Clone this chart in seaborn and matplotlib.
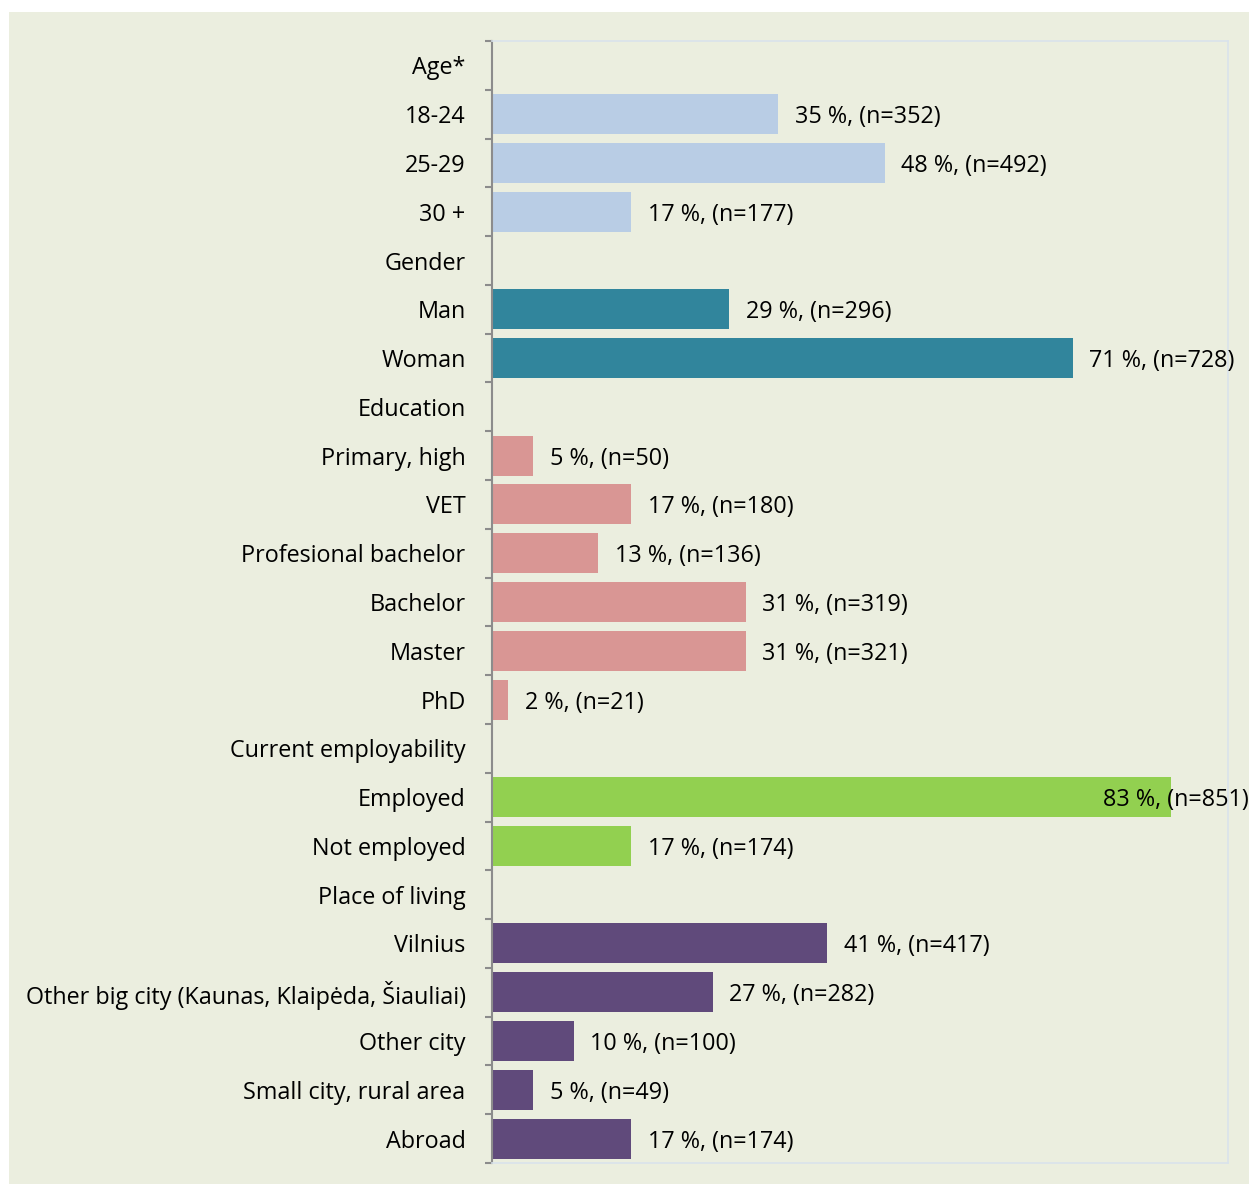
import matplotlib
matplotlib.use("Agg")
import matplotlib.pyplot as plt
import matplotlib.patches as mpatches
import matplotlib.transforms as mtransforms
import seaborn as sns
import pandas as pd
import numpy as np

# ---- data ----
row_order = [
    "Age*", "18-24", "25-29", "30 +",
    "Gender", "Man", "Woman",
    "Education", "Primary, high", "VET", "Profesional bachelor", "Bachelor", "Master", "PhD",
    "Current employability", "Employed", "Not employed",
    "Place of living", "Vilnius", "Other big city (Kaunas, Klaipėda, Šiauliai)",
    "Other city", "Small city, rural area", "Abroad",
]
age_cats = ["18-24", "25-29", "30 +"]
age_pct = [35, 48, 17]
age_n = [352, 492, 177]
gender_cats = ["Man", "Woman"]
gender_pct = [29, 71]
gender_n = [296, 728]
edu_cats = ["Primary, high", "VET", "Profesional bachelor", "Bachelor", "Master", "PhD"]
edu_pct = [5, 17, 13, 31, 31, 2]
edu_n = [50, 180, 136, 319, 321, 21]
emp_cats = ["Employed", "Not employed"]
emp_pct = [83, 17]
emp_n = [851, 174]
place_cats = ["Vilnius", "Other big city (Kaunas, Klaipėda, Šiauliai)", "Other city",
              "Small city, rural area", "Abroad"]
place_pct = [41, 27, 10, 5, 17]
place_n = [417, 282, 100, 49, 174]

groups = ["Age", "Gender", "Education", "Employability", "Place"]
colors = ["#B9CDE5", "#31859C", "#D99694", "#92D050", "#604A7B"]

frames = []
for g, cats, pct, n in [
    ("Age", age_cats, age_pct, age_n),
    ("Gender", gender_cats, gender_pct, gender_n),
    ("Education", edu_cats, edu_pct, edu_n),
    ("Employability", emp_cats, emp_pct, emp_n),
    ("Place", place_cats, place_pct, place_n),
]:
    frames.append(pd.DataFrame({"cat": cats, "pct": pct, "n": n, "group": g}))
df = pd.concat(frames, ignore_index=True)

# ---- figure ----
W, H = 1249, 1184
fig = plt.figure(figsize=(W / 100, H / 100), dpi=100)
fig.patch.set_facecolor("white")
bg = "#EBEEDF"
fig.patches.append(mpatches.Rectangle((9 / W, 0), 1 - 9 / W, 1 - 12 / H,
                                      transform=fig.transFigure, facecolor=bg,
                                      edgecolor="none", zorder=-10))

ax = fig.add_axes([492 / W, 1 - 1163 / H, (1228 - 492) / W, (1163 - 41) / H])
ax.set_facecolor(bg)

sns.barplot(data=df, y="cat", x="pct", hue="group", order=row_order,
            hue_order=groups, palette=colors, orient="h", dodge=False,
            width=0.82, legend=False, ax=ax, saturation=1, linewidth=0)

ax.set_xlim(0, 90)
ax.set_ylim(len(row_order) - 0.5, -0.5)
ax.set_xlabel("")
ax.set_ylabel("")
ax.set_xticks([])

font = "Open Sans"
fs = 16.8
ax.set_yticks(range(len(row_order)))
ax.set_yticklabels(row_order, fontsize=fs, family=font, color="#000000")
ax.tick_params(axis="y", which="major", length=0, pad=19)
ax.set_yticks(np.arange(-0.5, len(row_order), 1), minor=True)
ax.tick_params(axis="y", which="minor", length=5, width=1.5, color="#8C8C8C", direction="out")

for side in ["top", "right", "bottom"]:
    ax.spines[side].set_color("#D9E3EC")
    ax.spines[side].set_linewidth(1.2)
ax.spines["left"].set_color("#8C8C8C")
ax.spines["left"].set_linewidth(1.5)

# ---- value labels ----
pos = {c: i for i, c in enumerate(row_order)}
renderer = fig.canvas.get_renderer()
blend = mtransforms.blended_transform_factory(fig.transFigure, ax.transData)
for _, r in df.iterrows():
    y = pos[r["cat"]]
    label = f"{r['pct']} %, (n={r['n']})"
    t = ax.annotate(label, xy=(r["pct"], y), xytext=(12, 0), textcoords="offset points",
                    ha="left", va="center_baseline", fontsize=fs, family=font, color="#000000",
                    annotation_clip=False)
    bb = t.get_window_extent(renderer=renderer)
    if bb.x1 > W:
        t.remove()
        ax.annotate(label, xy=(0.9995, y), xycoords=blend, ha="right", va="center_baseline",
                    fontsize=fs, family=font, color="#000000", annotation_clip=False)

fig.savefig("out.png", dpi=100, facecolor=fig.get_facecolor())
